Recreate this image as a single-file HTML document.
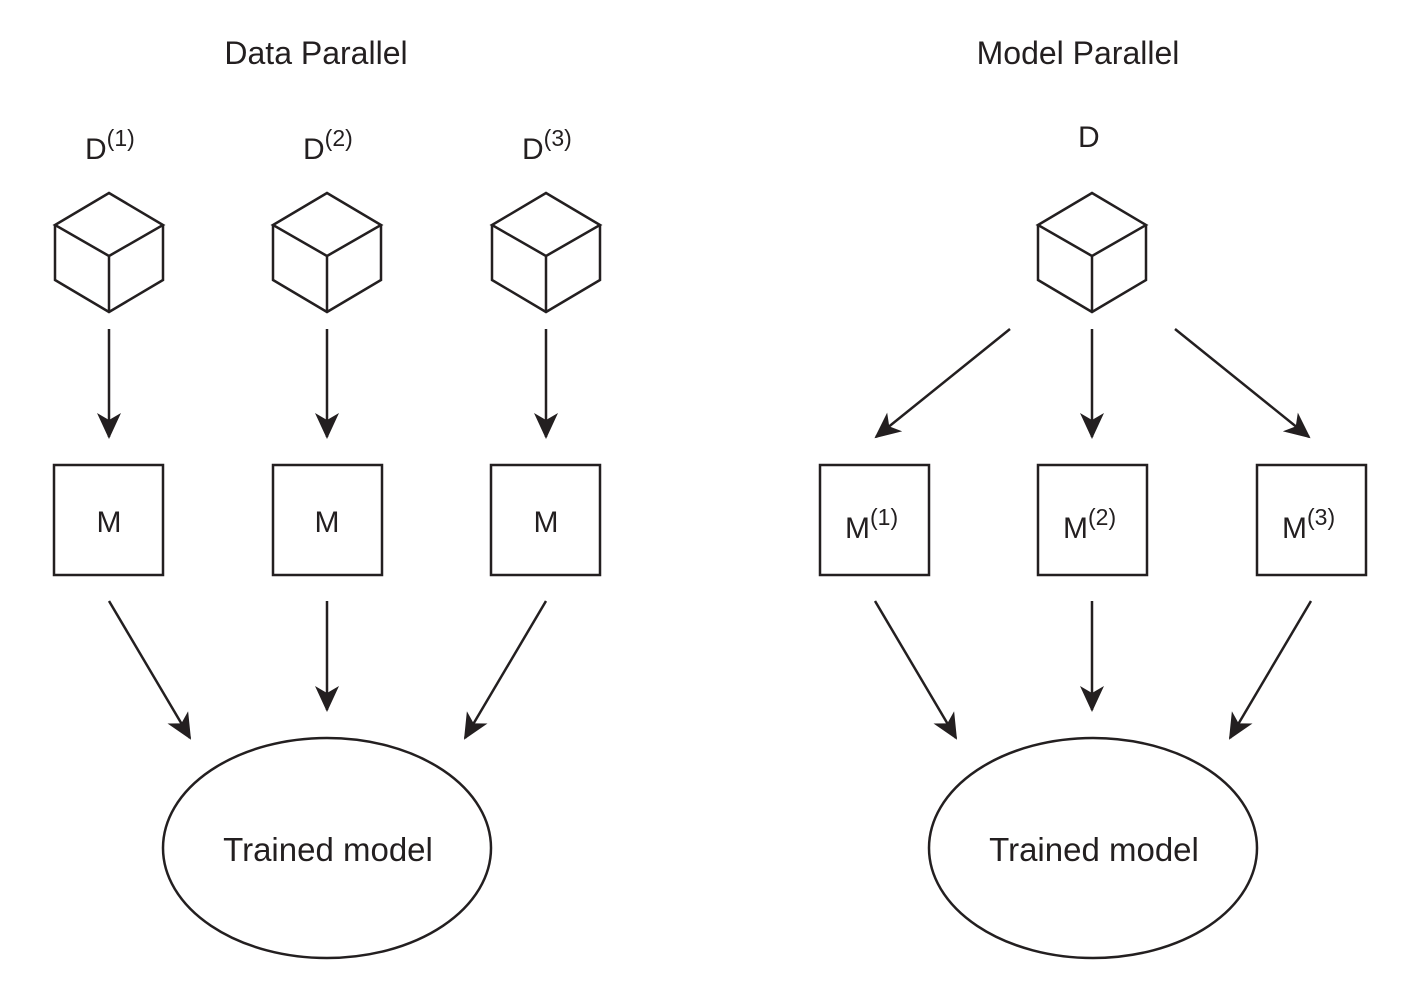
<!DOCTYPE html>
<html><head><style>body{margin:0;background:#fff}</style></head><body>
<svg width="1415" height="1000" xmlns="http://www.w3.org/2000/svg" font-family="Liberation Sans, sans-serif" fill="#231f20">
<defs>
<marker id="a" viewBox="0 0 26 24" refX="24" refY="12" markerWidth="26" markerHeight="24" markerUnits="userSpaceOnUse" orient="auto">
<path d="M0,0 L26,12 L0,24 L7,12 Z" fill="#231f20"/>
</marker>
<g id="cube" fill="none" stroke="#231f20" stroke-width="2.5" stroke-linejoin="miter">
<path d="M0,0 L54,32 L0,63 L-54,32 Z M-54,32 L-54,87 L0,119 L54,87 L54,32 M0,63 L0,119"/>
</g>
</defs>
<g font-size="32" text-anchor="middle">
<text x="316" y="64">Data Parallel</text>
<text x="1078" y="64">Model Parallel</text>
</g>
<g font-size="30">
<text x="85" y="159">D<tspan dy="-13" font-size="23">(1)</tspan></text>
<text x="303" y="159">D<tspan dy="-13" font-size="23">(2)</tspan></text>
<text x="522" y="159">D<tspan dy="-13" font-size="23">(3)</tspan></text>
<text x="1078" y="147">D</text>
</g>
<use href="#cube" x="109" y="193"/>
<use href="#cube" x="327" y="193"/>
<use href="#cube" x="546" y="193"/>
<use href="#cube" x="1092" y="193"/>
<g fill="none" stroke="#231f20" stroke-width="2.5">
<rect x="54" y="465" width="109" height="110"/>
<rect x="273" y="465" width="109" height="110"/>
<rect x="491" y="465" width="109" height="110"/>
<rect x="820" y="465" width="109" height="110"/>
<rect x="1038" y="465" width="109" height="110"/>
<rect x="1257" y="465" width="109" height="110"/>
<ellipse cx="327" cy="848" rx="164" ry="110"/>
<ellipse cx="1093" cy="848" rx="164" ry="110"/>
</g>
<g stroke="#231f20" stroke-width="2.5" marker-end="url(#a)">
<line x1="109" y1="329" x2="109" y2="437"/>
<line x1="327" y1="329" x2="327" y2="437"/>
<line x1="546" y1="329" x2="546" y2="437"/>
<line x1="1010" y1="329" x2="876" y2="437"/>
<line x1="1092" y1="329" x2="1092" y2="437"/>
<line x1="1175" y1="329" x2="1309" y2="437"/>
<line x1="109" y1="601" x2="190" y2="738"/>
<line x1="327" y1="601" x2="327" y2="710"/>
<line x1="546" y1="601" x2="465" y2="738"/>
<line x1="875" y1="601" x2="956" y2="738"/>
<line x1="1092" y1="601" x2="1092" y2="710"/>
<line x1="1311" y1="601" x2="1230" y2="738"/>
</g>
<g font-size="30" text-anchor="middle">
<text x="109" y="532">M</text>
<text x="327" y="532">M</text>
<text x="546" y="532">M</text>
</g>
<g font-size="30">
<text x="845" y="538">M<tspan dy="-13" font-size="23">(1)</tspan></text>
<text x="1063" y="538">M<tspan dy="-13" font-size="23">(2)</tspan></text>
<text x="1282" y="538">M<tspan dy="-13" font-size="23">(3)</tspan></text>
</g>
<g font-size="33" text-anchor="middle">
<text x="328" y="861">Trained model</text>
<text x="1094" y="861">Trained model</text>
</g>
</svg>
</body></html>
